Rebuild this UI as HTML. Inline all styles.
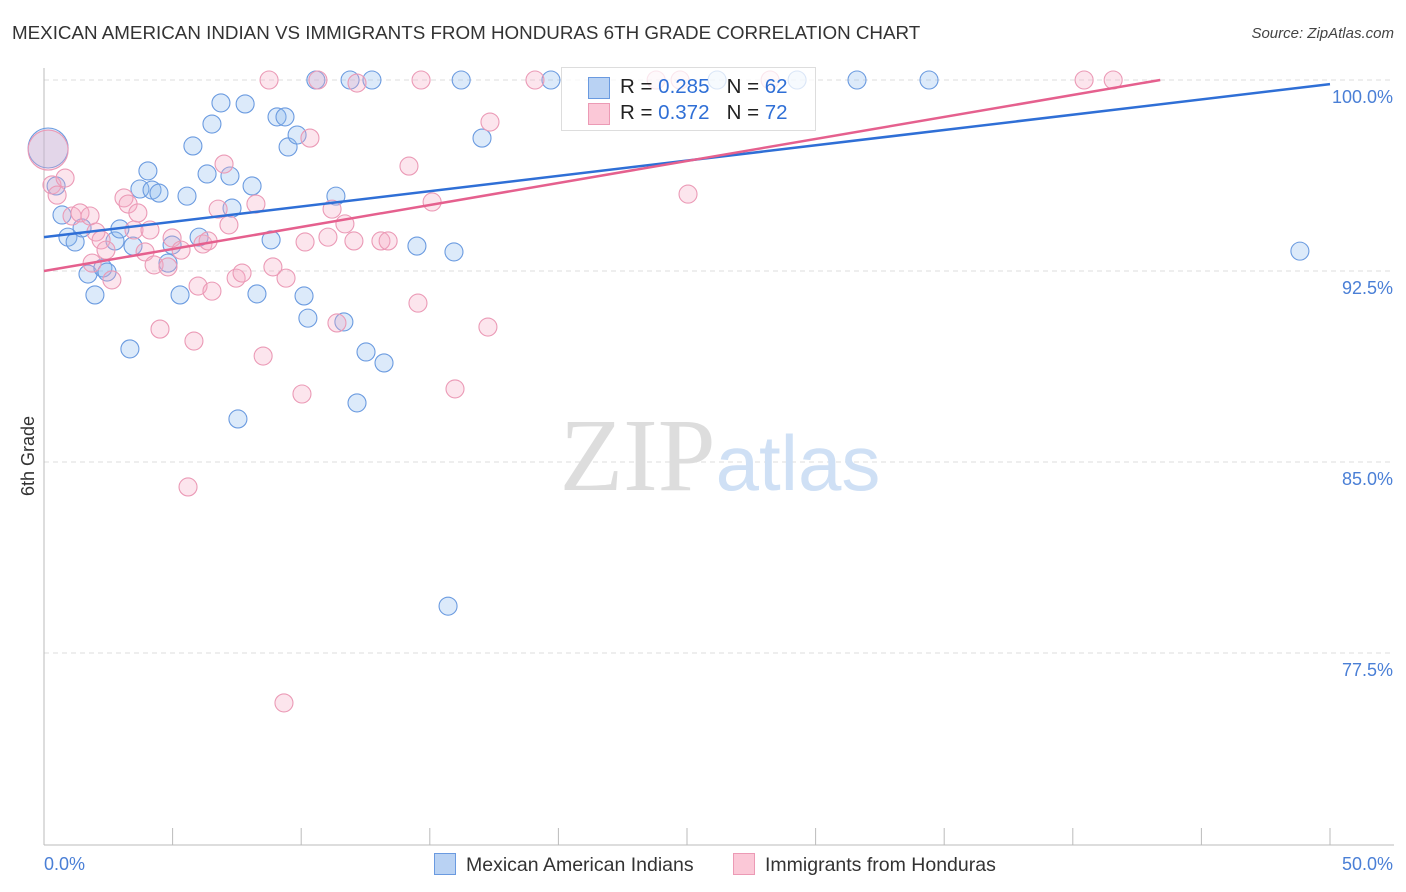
<!DOCTYPE html>
<html><head><meta charset="utf-8"><style>
body{margin:0;background:#fff;font-family:"Liberation Sans",sans-serif;}
#wrap{position:relative;width:1406px;height:892px;overflow:hidden;}
.t{position:absolute;white-space:nowrap;}
</style></head><body>
<div id="wrap">
<div class="t" style="left:12px;top:22px;font-size:18.8px;color:#333;">MEXICAN AMERICAN INDIAN VS IMMIGRANTS FROM HONDURAS 6TH GRADE CORRELATION CHART</div>
<div class="t" style="right:12px;top:25px;font-size:15px;color:#444;font-style:italic;">Source: ZipAtlas.com</div>
<svg id="svg" width="1406" height="892" style="position:absolute;left:0;top:0"></svg>
</div>
<script>
const yTicks=[100,92.5,85,77.5];
const yTickLabels=["100.0%","92.5%","85.0%","77.5%"];
const xTickLabels=["0.0%","50.0%"];
const blueX=[.16,.47,.70,.93,1.21,1.48,1.71,1.98,2.29,2.45,2.76,2.95,3.46,3.73,4.04,4.20,4.47,4.82,4.98,5.29,5.56,5.79,6.03,6.34,6.53,6.88,7.23,7.31,7.54,7.82,8.09,8.28,8.83,9.06,9.37,9.49,9.84,10.11,10.26,10.57,11.35,11.66,11.90,12.17,12.52,12.75,13.22,14.50,15.71,15.94,16.22,17.03,19.71,26.17,29.28,31.61,34.41,48.83,3.34];
const blueY=[97.33,95.84,94.70,93.83,93.64,94.19,92.38,91.56,92.62,92.46,93.68,94.15,93.48,95.72,96.43,95.68,95.56,92.81,93.52,91.56,95.44,97.41,93.83,96.31,98.27,99.10,96.23,94.97,86.69,99.06,95.84,91.60,93.72,98.55,98.55,97.37,97.84,91.52,90.65,100,95.44,90.50,100,87.32,89.32,100,88.89,93.48,79.34,93.25,100,97.72,100,100,100,100,100,93.28,89.44];
const pinkX=[.16,.31,.51,.82,1.09,1.40,1.79,2.02,2.22,2.41,2.64,3.11,3.27,3.50,3.65,3.93,4.28,4.51,4.82,4.98,5.33,5.60,5.83,5.99,6.18,6.38,6.53,6.77,7.00,7.19,7.47,7.70,8.24,8.52,8.75,8.90,9.41,10.03,10.15,10.34,10.65,11.04,11.20,11.39,11.70,12.05,12.17,13.10,13.38,14.19,14.54,14.66,15.09,15.98,17.26,17.34,19.09,23.80,24.73,25.04,28.23,40.44,41.57,9.33,1.87,4.12];
const pinkY=[97.25,95.88,95.48,96.15,94.66,94.78,94.66,94.03,93.72,93.32,92.15,95.37,95.13,94.11,94.78,93.25,92.74,90.22,92.66,93.80,93.32,84.02,89.75,91.91,93.56,93.68,91.71,94.93,96.70,94.31,92.22,92.42,95.13,89.16,100,92.66,92.22,87.67,93.64,97.72,100,93.83,94.93,90.46,94.35,93.68,99.88,93.68,93.68,96.62,91.24,100,95.21,87.87,90.30,98.35,100,100,100,95.52,100,100,100,75.54,92.81,94.11];
const trendBlue=[93.83,99.84];
const trendPink=[92.5,100,43.4];
const X=v=>44+v/50*1286, Y=v=>80+(100-v)/7.5*191;
const svg=document.getElementById('svg');const NS='http://www.w3.org/2000/svg';
function mk(t,a,p){const e=document.createElementNS(NS,t);for(const k in a)e.setAttribute(k,a[k]);(p||svg).appendChild(e);return e;}
yTicks.forEach((v,i)=>{const g=mk('line',{x1:44,x2:1394,y1:Y(v),y2:Y(v),stroke:'#ddd','stroke-dasharray':'5,4'});

const t=mk('text',{x:1393,y:Y(v)+23,'text-anchor':'end','font-size':18,fill:'#4a7fd6','font-family':'Liberation Sans'});t.textContent=yTickLabels[i];
});
const ax=mk('line',{x1:44,x2:44,y1:68,y2:845,stroke:'#bbb'});
const bx=mk('line',{x1:44,x2:1394,y1:845,y2:845,stroke:'#bbb'});
for(let i=0;i<=10;i++){const l=mk('line',{x1:X(i*5),x2:X(i*5),y1:828,y2:845,stroke:'#bbb'});}
[[0,'start',44],[50,'end',1393]].forEach((d,i)=>{const t=mk('text',{x:d[2],y:870,'text-anchor':d[1],'font-size':18,fill:'#4a7fd6','font-family':'Liberation Sans'});t.textContent=xTickLabels[i];});
const wm=mk('text',{x:720,y:490,'text-anchor':'middle','font-size':104,'font-family':'Liberation Serif',fill:'#ddd'});wm.innerHTML='ZIP<tspan fill="#cfe0f5" font-family="Liberation Sans" font-size="78">atlas</tspan>';

const yt=mk('text',{x:34,y:456,'text-anchor':'middle','font-size':18,fill:'#333',transform:'rotate(-90 34 456)','font-family':'Liberation Sans'});yt.textContent='6th Grade';

function dots(xs,ys,fill,stroke,name){xs.forEach((x,i)=>{const c=mk('circle',{cx:X(x),cy:Y(ys[i]),r:i==0?20:9,fill:fill,stroke:stroke,'stroke-width':1.1});
});}
dots(blueX,blueY,'rgba(140,185,240,0.3)','#6b9be0','point-mexican-american-indian');
dots(pinkX,pinkY,'rgba(245,170,195,0.3)','#eb9ab6','point-honduras');
const lb=mk('line',{x1:X(0),y1:Y(trendBlue[0]),x2:X(50),y2:Y(trendBlue[1]),stroke:'#2f6fd6','stroke-width':2.5});

const lp=mk('line',{x1:X(0),y1:Y(trendPink[0]),x2:X(trendPink[2]),y2:Y(trendPink[1]),stroke:'#e5608e','stroke-width':2.5});

</script>
<div class="t" style="left:561px;top:67px;width:253px;height:62px;border:1px solid #ddd;background:rgba(255,255,255,0.75);font-size:20.5px;color:#222;">
<div style="position:absolute;left:26px;top:9px;width:20px;height:20px;background:#b9d2f3;border:1px solid #6a9ae0;"></div>
<div class="t" style="left:58px;top:7px;">R = <span style="color:#2f6fd6">0.285</span>&nbsp;&nbsp; N = <span style="color:#2f6fd6">62</span></div>
<div style="position:absolute;left:26px;top:35px;width:20px;height:20px;background:#fbc8d7;border:1px solid #ec9ab5;"></div>
<div class="t" style="left:58px;top:33px;">R = <span style="color:#2f6fd6">0.372</span>&nbsp;&nbsp; N = <span style="color:#2f6fd6">72</span></div>
</div>
<div class="t" style="left:434px;top:853px;font-size:19.5px;color:#333;"><span style="display:inline-block;width:20px;height:20px;background:#b9d2f3;border:1px solid #6a9ae0;vertical-align:-4px;margin-right:10px"></span>Mexican American Indians</div>
<div class="t" style="left:733px;top:853px;font-size:19.5px;color:#333;"><span style="display:inline-block;width:20px;height:20px;background:#fbc8d7;border:1px solid #ec9ab5;vertical-align:-4px;margin-right:10px"></span>Immigrants from Honduras</div>
</body></html>
